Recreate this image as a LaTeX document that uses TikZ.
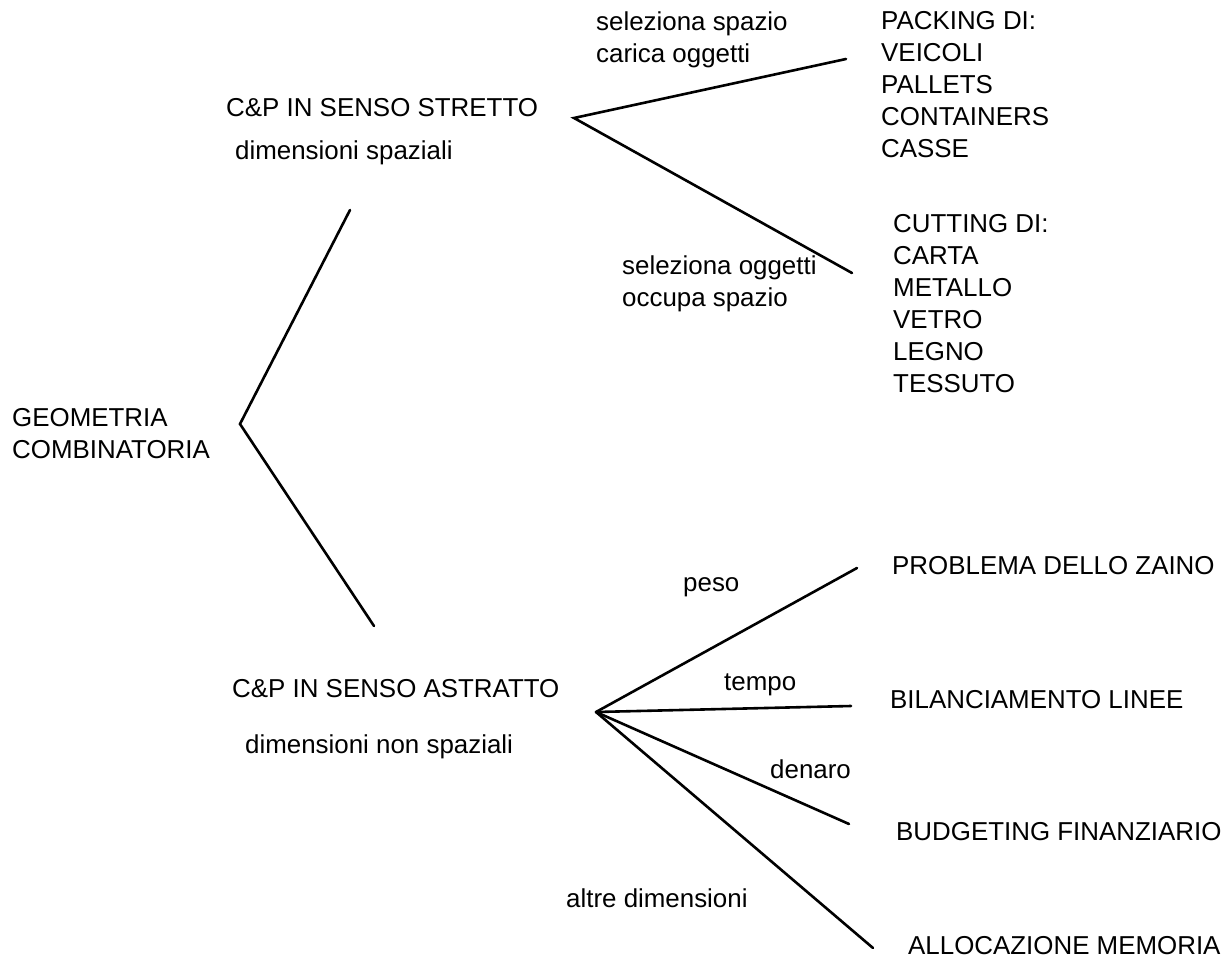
\documentclass[tikz,border=0pt]{standalone}
\usepackage{fontspec}
\setmainfont{Liberation Sans}
\usepackage{tikz}
\begin{document}
\begin{tikzpicture}[x=1pt,y=-1pt,font=\fontsize{25.9}{32}\selectfont,
   lbl/.style={anchor=west,inner sep=0pt,align=left},
   branch/.style={line width=2.6pt,line cap=round}]
\useasboundingbox (0,0) rectangle (1231,960);
% branching points and free ends of the strokes
\coordinate (geo) at (240,424);
\coordinate (strettoEnd) at (350,210);
\coordinate (astrattoEnd) at (374,626);
\coordinate (hubS) at (574,118);
\coordinate (packEnd) at (846,59);
\coordinate (cutEnd) at (852,273);
\coordinate (hubA) at (596,712);
\coordinate (zainoEnd) at (857,568);
\coordinate (lineeEnd) at (851,706);
\coordinate (budgetEnd) at (849,824);
\coordinate (memEnd) at (873,948);
% texts
\node[lbl] (geom) at (12,434) {GEOMETRIA\\COMBINATORIA};
\node[lbl] (stretto) at (226,108) {C\&P IN SENSO STRETTO};
\node[lbl] (spaz) at (235,153) {dimensioni spaziali};
\node[lbl] (carica) at (596,40) {seleziona spazio\\carica oggetti};
\node[lbl] (occupa) at (622,284) {seleziona oggetti\\occupa spazio};
\node[lbl] (packing) at (881,85) {PACKING DI:\\VEICOLI\\PALLETS\\CONTAINERS\\CASSE};
\node[lbl] (cutting) at (893,304) {CUTTING DI:\\CARTA\\METALLO\\VETRO\\LEGNO\\TESSUTO};
\node[lbl] (astratto) at (232,689) {C\&P IN SENSO ASTRATTO};
\node[lbl] (nonspaz) at (245,747) {dimensioni non spaziali};
\node[lbl] (peso) at (683,587) {peso};
\node[lbl] (tempo) at (724,685) {tempo};
\node[lbl] (denaro) at (770,769) {denaro};
\node[lbl] (altre) at (566,898) {altre dimensioni};
\node[lbl] (zaino) at (892,566) {PROBLEMA DELLO ZAINO};
\node[lbl] (linee) at (890,700) {BILANCIAMENTO LINEE};
\node[lbl] (budget) at (896,832) {BUDGETING FINANZIARIO};
\node[lbl] (mem) at (908,946) {ALLOCAZIONE MEMORIA};
% strokes
\draw[branch] (strettoEnd) -- (geo) -- (astrattoEnd);
\draw[branch] (packEnd) -- (hubS) -- (cutEnd);
\foreach \e in {zainoEnd,lineeEnd,budgetEnd,memEnd}
  \draw[branch] (hubA) -- (\e);
\end{tikzpicture}
\end{document}
